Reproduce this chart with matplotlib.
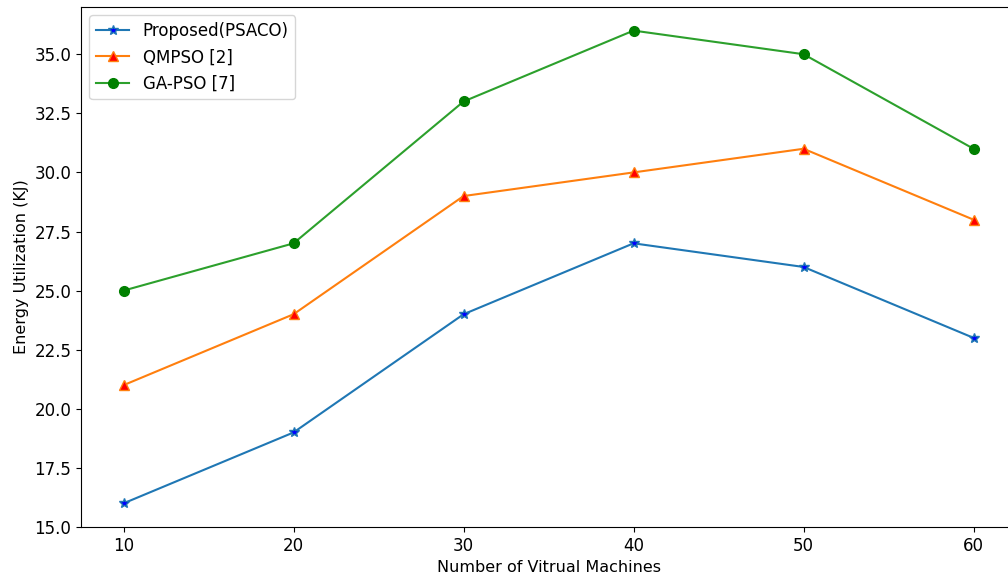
import matplotlib
matplotlib.use("Agg")
import matplotlib.pyplot as plt

vms = [10, 20, 30, 40, 50, 60]
psaco = [16, 19, 24, 27, 26, 23]
qmpso = [21, 24, 29, 30, 31, 28]
gapso = [25, 27, 33, 36, 35, 31]

fig = plt.figure(figsize=(10.08, 5.74), dpi=100)
# right edge of the axes falls just outside the canvas, as in the cropped original
ax = fig.add_axes([0.0804, 0.0819, 0.9276, 0.906])

ax.plot(vms, psaco, marker="*", markerfacecolor="blue", markersize=7,
        color="C0", label="Proposed(PSACO)")
ax.plot(vms, qmpso, marker="^", markerfacecolor="red", markersize=7,
        color="C1", label="QMPSO [2]")
ax.plot(vms, gapso, marker="o", markerfacecolor="green", markeredgecolor="green",
        markersize=7, color="C2", label="GA-PSO [7]")

ax.set_xlim(7.5, 62.5)
ax.set_ylim(15, 37)
ax.set_yticks([15.0, 17.5, 20.0, 22.5, 25.0, 27.5, 30.0, 32.5, 35.0])
ax.tick_params(labelsize=12)
ax.set_xlabel("Number of Vitrual Machines", fontsize=11.5)
ax.set_ylabel("Energy Utilization (KJ)", fontsize=11.5)
ax.legend(loc="upper left", fontsize=12)

fig.savefig("out.png", dpi=100)
